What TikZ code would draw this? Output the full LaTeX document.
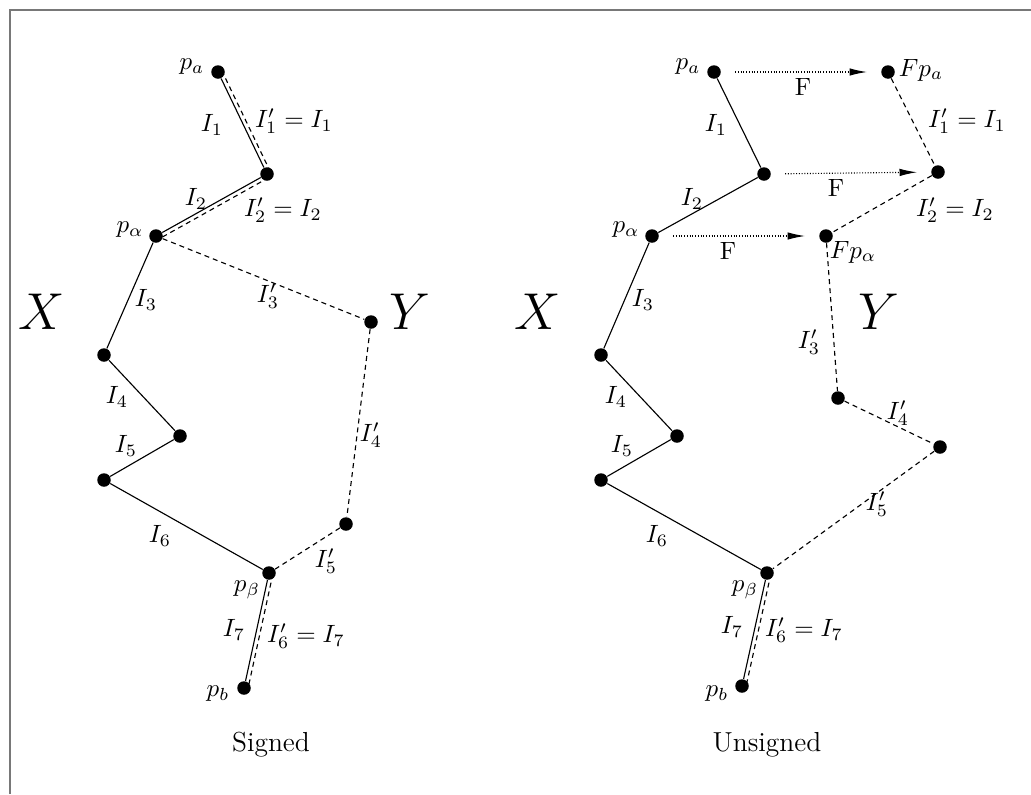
\documentclass[tikz,border=0pt]{standalone}
\usepackage{amsmath}
\usepackage{xcolor}
\definecolor{framegray}{RGB}{120,120,120}
\usetikzlibrary{arrows.meta, positioning, calc}

% solid segment with a dashed twin drawn beside it
\newcommand{\twinedge}[2]{%
  \draw[solidedge] (#1) -- (#2);
  \draw[dashedge] ($(#1)!1.6pt!90:(#2)$) -- ($(#2)!1.6pt!-90:(#1)$);}

\begin{document}
\begin{tikzpicture}[x=0.4pt, y=-0.4pt,
  dot/.style={circle, fill=black, inner sep=0pt, minimum size=5.4pt},
  solidedge/.style={black, line width=0.45pt},
  dashedge/.style={black, line width=0.45pt, dash pattern=on 2pt off 1.6pt},
  mapedge/.style={black, line width=0.45pt, dash pattern=on 0.4pt off 0.7pt,
                  -{Latex[length=7pt, width=3pt]}, shorten <=5.5pt, shorten >=5.5pt},
  lbl/.style={inner sep=0pt},
  caption/.style={inner sep=0pt, font=\fontsize{11}{13}\selectfont},
  bigset/.style={inner sep=0pt, font=\huge}]

\useasboundingbox (0,0) rectangle (1031,794);
\draw[framegray, line width=0.5pt] (10,794) -- (10,10) -- (1031,10);

% --- Panel 1: Signed ---
\node[dot] (pa)  at (218,72)  {};
\node[dot] (v1)  at (267,174) {};
\node[dot] (pal) at (156,236) {};
\node[dot] (v3)  at (104,355) {};
\node[dot] (v4)  at (180,436) {};
\node[dot] (v5)  at (104,480) {};
\node[dot] (pbe) at (269,573) {};
\node[dot] (pb)  at (244,688) {};
\node[dot] (y1)  at (371,322) {};
\node[dot] (y2)  at (346,524) {};

% path X
\twinedge{pa}{v1}
\twinedge{v1}{pal}
\draw[solidedge] (pal) -- (v3) -- (v4) -- (v5) -- (pbe);
\twinedge{pbe}{pb}

% path Y
\draw[dashedge] (pal) -- (y1) -- (y2) -- (pbe);

% labels
\node[lbl] (lpa)  at (192,67)  {$p_a$};
\node[lbl] (li1)  at (212,125) {$I_1$};
\node[lbl] (lj1)  at (294,121) {$I_1' = I_1$};
\node[lbl] (li2)  at (196,199) {$I_2$};
\node[lbl] (lj2)  at (283,210) {$I_2' = I_2$};
\node[lbl] (lpal) at (130,230) {$p_\alpha$};
\node[lbl] (lj3)  at (268,296) {$I_3'$};
\node[lbl] (li3)  at (146,300) {$I_3$};
\node[bigset] (lx) at (42,312)  {$X$};
\node[bigset] (ly) at (410,312) {$Y$};
\node[lbl] (li4)  at (117,397) {$I_4$};
\node[lbl] (li5)  at (126,446) {$I_5$};
\node[lbl] (lj4)  at (371,435) {$I_4'$};
\node[lbl] (li6)  at (160,536) {$I_6$};
\node[lbl] (lj5)  at (326,561) {$I_5'$};
\node[lbl] (lpbe) at (247,590) {$p_\beta$};
\node[lbl] (li7)  at (234,630) {$I_7$};
\node[lbl] (lj6)  at (306,636) {$I_6' = I_7$};
\node[lbl] (lpb)  at (218,694) {$p_b$};
\node[caption] (signed) at (271,745) {Signed};

% --- Panel 2: Unsigned ---
\node[dot] (qa)  at (714,72)  {};
\node[dot] (w1)  at (764,174) {};
\node[dot] (qal) at (652,236) {};
\node[dot] (w3)  at (601,355) {};
\node[dot] (w4)  at (677,436) {};
\node[dot] (w5)  at (601,480) {};
\node[dot] (qbe) at (767,573) {};
\node[dot] (qb)  at (742,686) {};
\node[dot] (fqa)  at (888,72)  {};
\node[dot] (fw1)  at (938,172) {};
\node[dot] (fqal) at (826,236) {};
\node[dot] (z1)   at (838,398) {};
\node[dot] (z2)   at (940,447) {};

% path X
\draw[solidedge] (qa) -- (w1) -- (qal) -- (w3) -- (w4) -- (w5) -- (qbe);
\twinedge{qbe}{qb}

% path Y
\draw[dashedge] (fqa) -- (fw1) -- (fqal) -- (z1) -- (z2) -- (qbe);

% the map F
\draw[mapedge] (qa) -- (fqa);
\draw[mapedge] (w1) -- (fw1);
\draw[mapedge] (qal) -- (fqal);
\node[lbl] (f1) at (803,87)  {F};
\node[lbl] (f2) at (836,188) {F};
\node[lbl] (f3) at (728,251) {F};

% labels
\node[lbl] (lqa)  at (688,67)  {$p_a$};
\node[lbl] (lk1)  at (716,125) {$I_1$};
\node[lbl] (lfqa) at (921,70)  {$Fp_a$};
\node[lbl] (lm1)  at (967,121) {$I_1' = I_1$};
\node[lbl] (lk2)  at (692,199) {$I_2$};
\node[lbl] (lm2)  at (955,210) {$I_2' = I_2$};
\node[lbl] (lqal) at (626,230) {$p_\alpha$};
\node[lbl] (lfqal) at (853,252) {$Fp_\alpha$};
\node[bigset] (lx2) at (538,312) {$X$};
\node[bigset] (ly2) at (879,312) {$Y$};
\node[lbl] (lk3)  at (643,300) {$I_3$};
\node[lbl] (lm3)  at (809,342) {$I_3'$};
\node[lbl] (lk4)  at (616,397) {$I_4$};
\node[lbl] (lm4)  at (898,413) {$I_4'$};
\node[lbl] (lk5)  at (622,446) {$I_5$};
\node[lbl] (lm5)  at (877,504) {$I_5'$};
\node[lbl] (lk6)  at (657,536) {$I_6$};
\node[lbl] (lqbe) at (745,590) {$p_\beta$};
\node[lbl] (lk7)  at (732,627) {$I_7$};
\node[lbl] (lm6)  at (804,630) {$I_6' = I_7$};
\node[lbl] (lqb)  at (717,694) {$p_b$};
\node[caption] (unsigned) at (767,745) {Unsigned};

\end{tikzpicture}
\end{document}
